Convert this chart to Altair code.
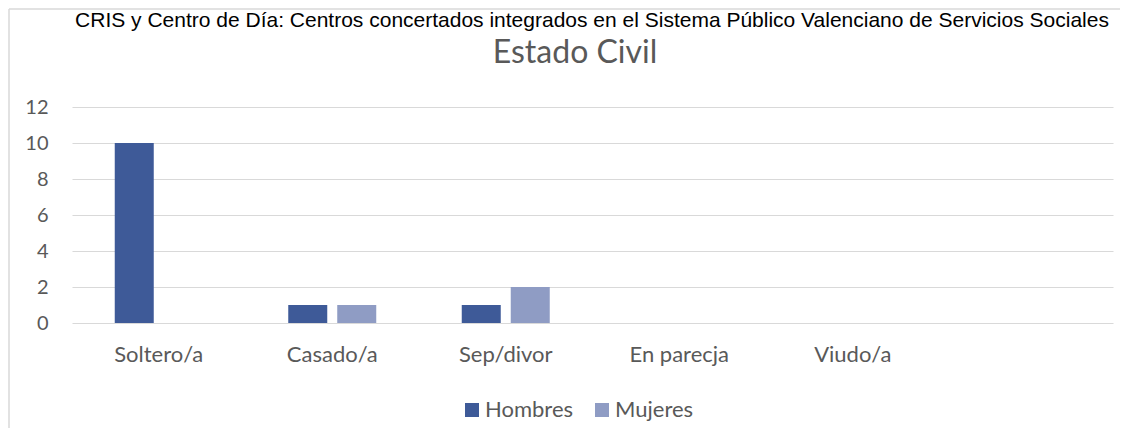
import altair as alt
import pandas as pd

categorias = ["Soltero/a", "Casado/a", "Sep/divor", "En parecja", "Viudo/a", " "]
hombres = [10, 1, 1, 0, 0, 0]
mujeres = [0, 1, 2, 0, 0, 0]
series = ["Hombres", "Mujeres"]
colores = ["#3E5A98", "#8F9CC4"]
y_ticks = [0, 2, 4, 6, 8, 10, 12]
titulo = "Estado Civil"
encabezado = "CRIS y Centro de Día: Centros concertados integrados en el Sistema Público Valenciano de Servicios Sociales"

rows = []
for c, h, m in zip(categorias, hombres, mujeres):
    rows.append({"cat": c, "sexo": series[0], "v": h})
    rows.append({"cat": c, "sexo": series[1], "v": m})
df = pd.DataFrame(rows)

GRAY = "#595959"
FONT = "Lato"

bars = alt.Chart(df).mark_bar(strokeWidth=0).encode(
    x=alt.X("cat:N",
            scale=alt.Scale(domain=categorias, paddingInner=0.4928, paddingOuter=0.2464),
            axis=alt.Axis(title=None, labelAngle=0, ticks=False, domain=False, grid=False,
                          labelFont=FONT, labelFontSize=22, labelColor=GRAY, labelPadding=21)),
    xOffset=alt.XOffset("sexo:N", scale=alt.Scale(domain=series, paddingInner=0.204, paddingOuter=0)),
    y=alt.Y("v:Q",
            scale=alt.Scale(domain=[0, 12], nice=False),
            axis=alt.Axis(title=None, values=y_ticks, ticks=False, domain=False, grid=True,
                          gridColor="#D9D9D9", gridWidth=1,
                          labelFont=FONT, labelFontSize=20, labelColor=GRAY, labelPadding=24)),
    color=alt.Color("sexo:N",
                    scale=alt.Scale(domain=series, range=colores),
                    legend=alt.Legend(title=None, orient="none", legendX=389, legendY=292,
                                      direction="horizontal", symbolType="square", symbolSize=196,
                                      symbolStrokeWidth=0, labelFont=FONT, labelFontSize=22,
                                      labelColor=GRAY, labelOffset=2, columnPadding=17, padding=0)),
)

edge = pd.DataFrame({"a": [0]})
frame_top = alt.Chart(edge).mark_rule(color="#D9D9D9", strokeWidth=1.5).encode(
    x=alt.value(-63), x2=alt.value(2000), y=alt.value(-98))
frame_left = alt.Chart(edge).mark_rule(color="#D9D9D9", strokeWidth=1.5).encode(
    x=alt.value(-63), y=alt.value(-98), y2=alt.value(500))

title_text = alt.Chart(pd.DataFrame({"t": [titulo]})).mark_text(
    font=FONT, fontSize=32, color=GRAY, align="center", baseline="alphabetic"
).encode(text="t:N", x=alt.value(503), y=alt.value(-44))

top_text = alt.Chart(pd.DataFrame({"t": [encabezado]})).mark_text(
    font="Liberation Sans", fontSize=21, color="#000000", align="center", baseline="alphabetic"
).encode(text="t:N", x=alt.value(520), y=alt.value(-80))

chart = alt.layer(frame_top, frame_left, bars, title_text, top_text).properties(
    width=1041, height=216,
    padding={"left": 64, "top": 99, "right": 7, "bottom": 105},
    autosize=alt.AutoSizeParams(type="none"),
).configure_view(stroke=None)

chart.save("out.html", embed_options={"renderer": "svg", "actions": False})
